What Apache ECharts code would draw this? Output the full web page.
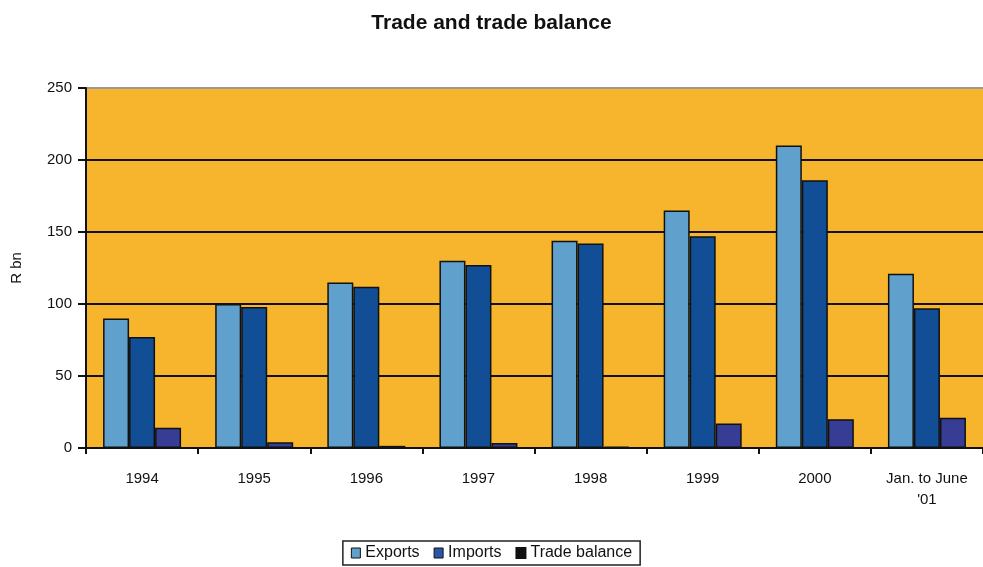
<!DOCTYPE html>
<html><head><meta charset="utf-8">
<script src="https://cdn.jsdelivr.net/npm/echarts@6/dist/echarts.min.js"></script>
<style>html,body{margin:0;padding:0;background:#fff}#c{width:983px;height:567px}</style>
</head><body><div id="c"></div>
<script>
const categories = ['1994','1995','1996','1997','1998','1999','2000','Jan. to June\n\'01'];
const exportsData = [90, 100, 115, 130, 144, 165, 210, 121];
const importsData = [77, 98, 112, 127, 142, 147, 186, 97];
const balanceData = [14, 4, 1.5, 3.5, 1, 17, 20, 21];
const yTicks = [0, 50, 100, 150, 200, 250];

const chart = echarts.init(document.getElementById('c'));
const font = 'Arial, "Liberation Sans", sans-serif';
const border = {borderColor:'#111', borderWidth:1.5};
chart.setOption({
  animation:false,
  title:{text:'Trade and trade balance', left:'center', top:8,
    textStyle:{fontFamily:font, fontSize:21, fontWeight:'bold', color:'#111'}},
  grid:{left:86, top:88, width:901, height:360, show:true, backgroundColor:'#f6b52c', borderWidth:0},
  legend:{bottom:2, left:'center', itemWidth:9, itemHeight:10, itemGap:14, padding:[4,8],
    borderColor:'#222', borderWidth:1.5, icon:'rect',
    textStyle:{fontFamily:font, fontSize:16, color:'#111'},
    data:[
      {name:'Exports', itemStyle:{color:'#5fa0cc', borderColor:'#111', borderWidth:1}},
      {name:'Imports', itemStyle:{color:'#2a56a8', borderColor:'#111', borderWidth:1}},
      {name:'Trade balance', itemStyle:{color:'#111'}}
    ]},
  xAxis:{type:'category', data:categories,
    axisLine:{lineStyle:{color:'#111', width:2}},
    axisTick:{show:true, length:6, lineStyle:{color:'#111', width:2}},
    axisLabel:{fontFamily:font, fontSize:15, color:'#111', margin:20, lineHeight:21}},
  yAxis:{type:'value', min:0, max:250, interval:50, name:'R bn', nameLocation:'middle', nameGap:62,
    nameTextStyle:{fontFamily:font, fontSize:15, color:'#111'},
    axisLine:{show:true, lineStyle:{color:'#111', width:2}},
    axisTick:{show:true, length:8, lineStyle:{color:'#111', width:2}},
    axisLabel:{fontFamily:font, fontSize:15, color:'#111', margin:14,
      formatter:v=>yTicks.includes(v)?String(v):''},
    splitLine:{lineStyle:{color:['#111','#111','#111','#111','#111','#999'], width:2}}},
  series:[
    {name:'Exports', type:'bar', data:exportsData, barWidth:26, barGap:'0%',
      itemStyle:Object.assign({color:'#5fa0cc'}, border)},
    {name:'Imports', type:'bar', data:importsData, barWidth:26, barGap:'0%',
      itemStyle:Object.assign({color:'#114e95'}, border)},
    {name:'Trade balance', type:'bar', data:balanceData, barWidth:26, barGap:'0%',
      itemStyle:Object.assign({color:'#373c94'}, border)}
  ]
});
</script></body></html>
